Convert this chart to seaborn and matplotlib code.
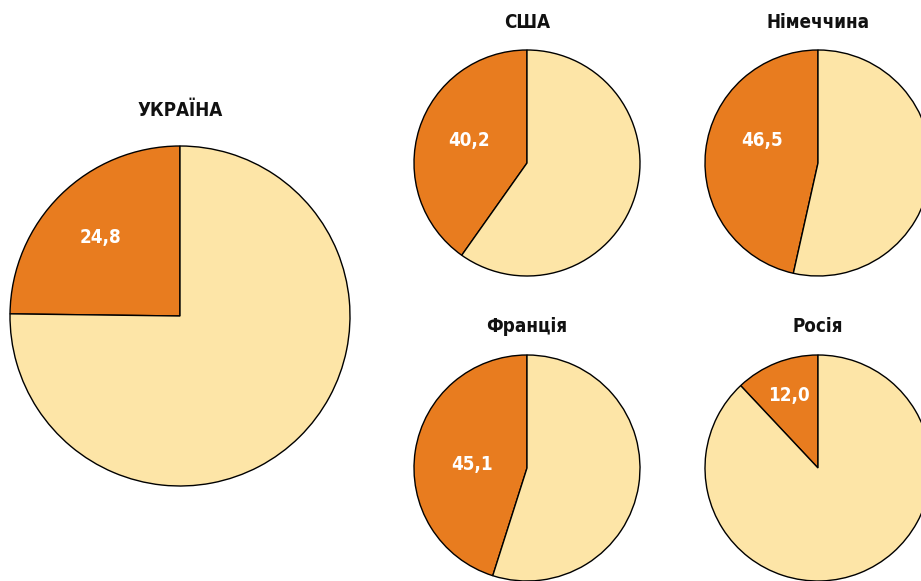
"""Share of the orange segment by country: five pie charts."""
import matplotlib
matplotlib.use('Agg')
import matplotlib.pyplot as plt
from matplotlib import font_manager
import seaborn as sns

countries = ['УКРАЇНА', 'США', 'Німеччина', 'Франція', 'Росія']
shares = [24.8, 40.2, 46.5, 45.1, 12.0]
share_labels = ['24,8', '40,2', '46,5', '45,1', '12,0']

# layout in pixels: centre x, centre y (from top), radius
W, H = 921, 581
layout = [
    (180, 316, 170),
    (527, 163, 113),
    (818, 163, 113),
    (527, 468, 113),
    (818, 468, 113),
]
# label offsets relative to the pie centre, in radius units
label_off = [(-0.47, 0.46), (-0.51, 0.20), (-0.50, 0.20), (-0.49, 0.03), (-0.26, 0.64)]
title_gap = [35, 28, 28, 29, 29]

ORANGE = '#E87C1F'
CREAM = '#FDE5A7'

sns.set_theme(style='white')

# pick a narrow bold face if one is around
fonts = font_manager.fontManager.ttflist
names = {f.name for f in fonts}
stretch = 'normal'
if 'Liberation Sans Narrow' in names:
    family = ['Liberation Sans Narrow', 'DejaVu Sans']
elif any(f.name == 'DejaVu Sans' and f.stretch == 'condensed' for f in fonts):
    family = ['DejaVu Sans']
    stretch = 'condensed'
else:
    family = ['Roboto', 'DejaVu Sans']
plt.rcParams['font.family'] = family
plt.rcParams['font.stretch'] = stretch

fig = plt.figure(figsize=(W / 100, H / 100), dpi=100)

for name, val, lab, (cx, cy, r), (ox, oy), gap in zip(
        countries, shares, share_labels, layout, label_off, title_gap):
    ax = fig.add_axes([(cx - r) / W, (H - cy - r) / H, 2 * r / W, 2 * r / H])
    ax.pie([val, 100 - val], colors=[ORANGE, CREAM], startangle=90,
           counterclock=True, radius=1,
           wedgeprops=dict(edgecolor='black', linewidth=1))
    ax.set_xlim(-1, 1)
    ax.set_ylim(-1, 1)
    ax.set_aspect('equal')
    ax.axis('off')
    ax.text(ox, oy, lab, ha='center', va='center', color='white',
            fontsize=13.5, fontweight='bold')
    fig.text(cx / W, (H - (cy - r - gap)) / H, name, ha='center', va='center',
             fontsize=13.5, fontweight='bold', color='#111111')

fig.savefig('out.png', dpi=100)
